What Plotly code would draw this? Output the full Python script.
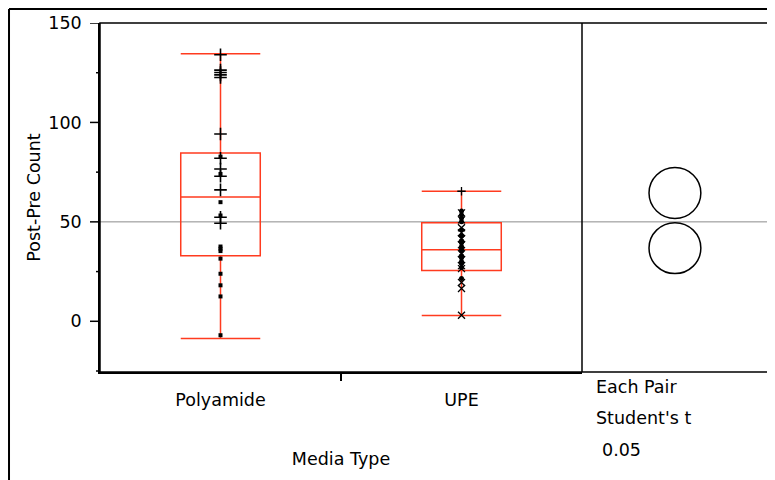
import plotly.graph_objects as go

# ---- data ----
categories = ["Polyamide", "UPE"]

# box statistics (Post-Pre Count)
q1 = [33.0, 25.6]
medians = [62.5, 36.0]
q3 = [84.6, 49.6]
lower_fence = [-8.6, 2.9]
upper_fence = [134.5, 65.4]

# individual observations
poly_plus = [134, 126.3, 125.1, 123.9, 122.6, 94.2, 82.0, 76.6, 72.9, 66.1, 52.3, 49.3]
poly_dot = [82.8, 74.1, 59.9, 53.2, 37.6, 36.5, 35.3, 31.5, 23.9, 18.1, 12.5, -7.0]
upe_x = [54.5, 51.0, 47.0, 44.5, 41.5, 38.5, 34.0, 31.0, 28.0, 26.5, 19.5, 16.5, 3.0]
upe_dot = [55.5, 53.5, 52.0, 50.0, 46.0, 43.0, 40.5, 39.5, 37.5, 36.5, 35.5,
           33.0, 32.0, 30.0, 29.0, 27.0, 21.5]
upe_plus = [65.4]

# comparison circles (Each Pair, Student's t, 0.05)
circle_means = [64.5, 36.8]
circle_radius = 12.8
grand_mean = 50.0

y_ticks = [0, 50, 100, 150]
y_minor_ticks = [-25, 25, 75, 125]
y_range = [-25.5, 150]

RED = "#FF3B1F"
FONT = "DejaVu Sans, Arial, sans-serif"
FS = 17.5

fig = go.Figure()

fig.add_trace(go.Box(
    x=[0, 1], q1=q1, median=medians, q3=q3,
    lowerfence=lower_fence, upperfence=upper_fence,
    boxpoints=False, fillcolor="rgba(0,0,0,0)",
    line=dict(color=RED, width=1.5), whiskerwidth=1, width=0.33,
    showlegend=False, hoverinfo="skip",
))

fig.add_trace(go.Scatter(
    x=[0] * len(poly_plus), y=poly_plus, mode="markers",
    marker=dict(symbol="cross-thin", size=9, line=dict(color="black", width=1.6)),
    showlegend=False))
fig.add_trace(go.Scatter(
    x=[0] * len(poly_dot), y=poly_dot, mode="markers",
    marker=dict(symbol="square", size=4, color="black"),
    showlegend=False))
fig.add_trace(go.Scatter(
    x=[1] * len(upe_x), y=upe_x, mode="markers",
    marker=dict(symbol="x-thin", size=7, line=dict(color="black", width=1.3)),
    showlegend=False))
fig.add_trace(go.Scatter(
    x=[1] * len(upe_dot), y=upe_dot, mode="markers",
    marker=dict(symbol="circle", size=5, color="black"),
    showlegend=False))
fig.add_trace(go.Scatter(
    x=[1] * len(upe_plus), y=upe_plus, mode="markers",
    marker=dict(symbol="cross-thin", size=6, line=dict(color="black", width=1.3)),
    showlegend=False))

# invisible trace to activate the circle panel axis
fig.add_trace(go.Scatter(x=[0.5], y=[grand_mean], xaxis="x2", yaxis="y",
                         mode="markers", marker=dict(opacity=0), showlegend=False,
                         hoverinfo="skip"))

PLOT_W = 674
split = 482 / PLOT_W
cx, rx = 0.484, 0.135
shapes = []
# grand mean line
shapes.append(dict(type="line", xref="paper", yref="y", x0=0, x1=1,
                   y0=grand_mean, y1=grand_mean, line=dict(color="#8c8c8c", width=1),
                   layer="below"))
for m in circle_means:
    shapes.append(dict(type="circle", xref="x2", yref="y",
                       x0=cx - rx, x1=cx + rx, y0=m - circle_radius, y1=m + circle_radius,
                       line=dict(color="black", width=1.5)))
# y-axis tick marks (major and minor) placed through the y scale
for v in y_ticks:
    shapes.append(dict(type="line", xref="paper", yref="y", x0=-10 / PLOT_W, x1=0,
                       y0=v, y1=v, line=dict(color="black", width=1.5)))
for v in y_minor_ticks:
    shapes.append(dict(type="line", xref="paper", yref="y", x0=-4 / PLOT_W, x1=0,
                       y0=v, y1=v, line=dict(color="black", width=1.5)))
# plot frame and separator
shapes.append(dict(type="rect", xref="paper", yref="paper", x0=0, x1=1, y0=0, y1=1,
                   line=dict(color="black", width=1.5)))
shapes.append(dict(type="line", xref="paper", yref="paper", x0=split, x1=split, y0=0, y1=1,
                   line=dict(color="black", width=1.5)))
# outer report frame
shapes.append(dict(type="line", xref="paper", yref="paper", x0=-0.135, x1=1.1,
                   y0=1.040, y1=1.040, line=dict(color="black", width=2)))
shapes.append(dict(type="line", xref="paper", yref="paper", x0=-0.135, x1=-0.135,
                   y0=-0.35, y1=1.040, line=dict(color="black", width=2)))

annotations = [
    dict(text="Each Pair", x=0.733, y=-0.043),
    dict(text="Student's t", x=0.733, y=-0.132),
    dict(text="0.05", x=0.742, y=-0.2235),
]
annotations = [dict(a, xref="paper", yref="paper", xanchor="left", yanchor="middle",
                    showarrow=False, font=dict(family=FONT, size=FS, color="black"))
               for a in annotations]

fig.update_layout(
    width=767, height=472,
    margin=dict(l=92, r=1, t=15, b=108),
    paper_bgcolor="white", plot_bgcolor="white",
    font=dict(family=FONT, size=FS, color="black"),
    shapes=shapes, annotations=annotations,
    xaxis=dict(domain=[0, split], range=[-0.5, 1.5], tickvals=[0, 1], ticktext=categories,
               ticks="", showgrid=False, zeroline=False, showline=True, automargin=False,
               linecolor="black", linewidth=1.5, ticklabelstandoff=11,
               minor=dict(tickvals=[0.5], ticks="outside", ticklen=7,
                          tickcolor="black", tickwidth=1.5, showgrid=False),
               title=dict(text="Media Type", standoff=44, font=dict(size=FS))),
    xaxis2=dict(domain=[split, 1], range=[0, 1], showticklabels=False, ticks="",
                showgrid=False, zeroline=False, showline=False, anchor="y"),
    yaxis=dict(range=y_range, tickmode="array", tickvals=y_ticks, ticks="",
               ticklabelstandoff=13, showgrid=False,
               zeroline=False, showline=True, linecolor="black", linewidth=1.5,
               automargin=False,
               title=dict(text="Post-Pre Count", standoff=3, font=dict(size=FS))),
)

fig.write_html("out.html")
